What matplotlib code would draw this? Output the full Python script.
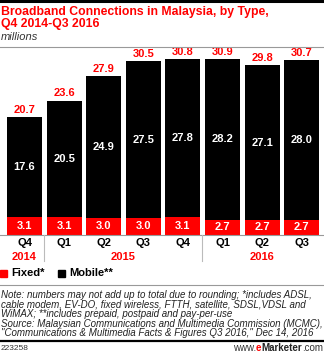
import matplotlib.pyplot as plt
from matplotlib.lines import Line2D
from matplotlib.patches import Rectangle

quarters = ['Q4', 'Q1', 'Q2', 'Q3', 'Q4', 'Q1', 'Q2', 'Q3']
fixed = [3.1, 3.1, 3.0, 3.0, 3.1, 2.7, 2.7, 2.7]
mobile = [17.6, 20.5, 24.9, 27.5, 27.8, 28.2, 27.1, 28.0]
totals = [20.7, 23.6, 27.9, 30.5, 30.8, 30.9, 29.8, 30.7]
years = ['2014', '2015', '2016']
year_pos = [0, 2.5, 6]

RED = '#ff0000'
W, H = 324, 353
FONT = 'Liberation Sans'

fig = plt.figure(figsize=(W / 100, H / 100), dpi=100)


def fx(px):
    return px / W


def fy(py):
    return 1 - py / H


# axes: 8 slots of 39.6 px starting at x=4.7, baseline at y=235
ax = fig.add_axes([fx(4.7), fy(235), fx(316.8), (235 - 47) / H])
x = list(range(len(quarters)))
ax.bar(x, fixed, width=0.885, color=RED, linewidth=0)
ax.bar(x, mobile, bottom=fixed, width=0.885, color='black', linewidth=0)
ax.set_xlim(-0.5, 7.5)
ax.set_ylim(0, 33.04)
ax.axis('off')

for i in x:
    ax.text(i, fixed[i] / 2, f'{fixed[i]:.1f}', color='white', ha='center', va='center',
            fontsize=8, fontweight='bold', family=FONT)
    ax.text(i, fixed[i] + mobile[i] / 2, f'{mobile[i]:.1f}', color='white', ha='center',
            va='center', fontsize=8, fontweight='bold', family=FONT)
    ax.text(i, totals[i] + 0.4, f'{totals[i]:.1f}', color=RED, ha='center', va='bottom',
            fontsize=8, fontweight='bold', family=FONT)
    ax.text(i, -1.45, quarters[i], ha='center', va='center', fontsize=8,
            fontweight='bold', family=FONT, clip_on=False)

for p, yr in zip(year_pos, years):
    ax.text(p, -3.8, yr, color=RED, ha='center', va='center', fontsize=8,
            fontweight='bold', family=FONT, clip_on=False)

# figure lines
fig.add_artist(Line2D([0, 1], [fy(1), fy(1)], color='black', lw=2.2))
fig.add_artist(Line2D([0, 1], [fy(46.5), fy(46.5)], color='#999999', lw=0.8))
fig.add_artist(Line2D([0, 1], [fy(235), fy(235)], color='#999999', lw=0.8))
for sx in [43.7, 201.7]:
    fig.add_artist(Line2D([fx(sx), fx(sx)], [fy(235), fy(261)], color='#bbbbbb', lw=0.8))
fig.add_artist(Line2D([0, 1], [fy(285), fy(285)], color='#999999', lw=0.8))
fig.add_artist(Line2D([0, 1], [fy(340.5), fy(340.5)], color='black', lw=1.6))

# titles
fig.text(fx(1), fy(11.5), 'Broadband Connections in Malaysia, by Type,', color=RED,
         fontsize=8.8, fontweight='bold', family=FONT, va='center')
fig.text(fx(1), fy(23.5), 'Q4 2014-Q3 2016', color=RED, fontsize=8.8,
         fontweight='bold', family=FONT, va='center')
fig.text(fx(1), fy(36.5), 'millions', fontsize=8, style='italic', family=FONT,
         va='center', color='#333333')

# legend
fig.add_artist(Rectangle((fx(0), fy(277)), fx(7), 7 / H, color=RED))
fig.text(fx(11), fy(273), 'Fixed*', fontsize=8, fontweight='bold', family=FONT, va='center')
fig.add_artist(Rectangle((fx(58), fy(277)), fx(7), 7 / H, color='black'))
fig.text(fx(69), fy(273), 'Mobile**', fontsize=8, fontweight='bold', family=FONT, va='center')

notes = [
    'Note: numbers may not add up to total due to rounding; *includes ADSL,',
    'cable modem, EV-DO, fixed wireless, FTTH, satellite, SDSL,VDSL and',
    'WiMAX; **includes prepaid, postpaid and pay-per-use',
    'Source: Malaysian Communications and Multimedia Commission (MCMC),',
    '"Communications & Multimedia Facts & Figures Q3 2016," Dec 14, 2016',
]
for k, line in enumerate(notes):
    fig.text(fx(1), fy(294.5 + k * 9.7), line, fontsize=7, style='italic',
             family=FONT, va='center', color='#222222')

fig.text(fx(1), fy(348), '223258', fontsize=6, family=FONT, va='center', color='#333333')

# www.eMarketer.com, built right to left
parts = [('.com', '#333333', 'normal'), ('Marketer', '#222222', 'bold'),
         ('e', RED, 'bold'), ('www.', '#333333', 'normal')]
xr = fx(323)
for s, c, wgt in parts:
    t = fig.text(xr, fy(348), s, fontsize=7, family=FONT, va='center', ha='right',
                 color=c, fontweight=wgt)
    fig.canvas.draw()
    xr = t.get_window_extent().x0 / W

fig.savefig('out.png', dpi=100)
